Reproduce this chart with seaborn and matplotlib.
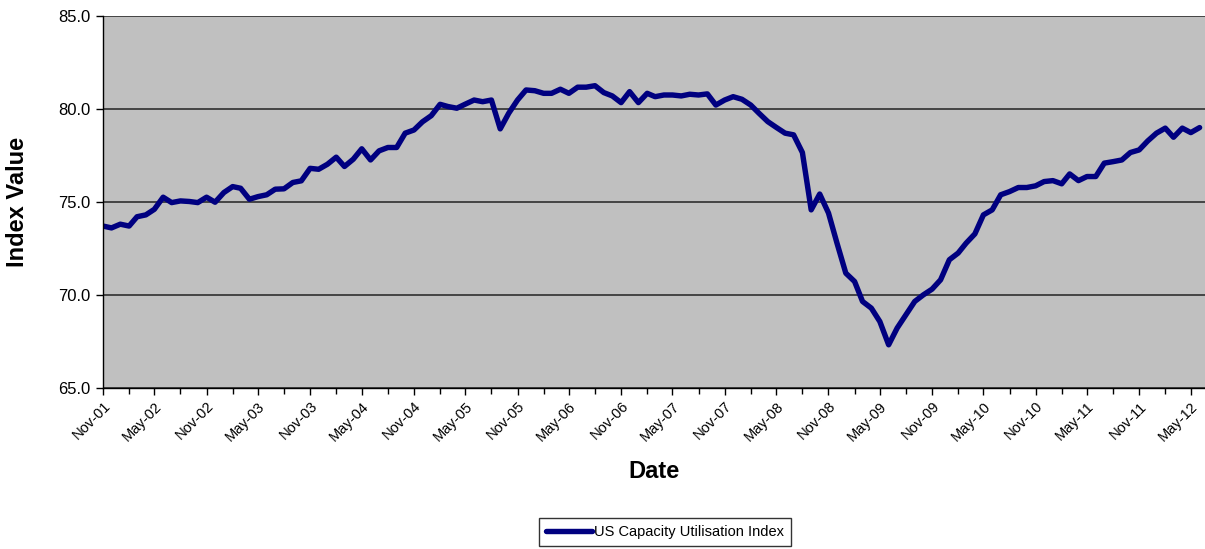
import numpy as np
import pandas as pd
import matplotlib
matplotlib.use("Agg")
import matplotlib.pyplot as plt
import matplotlib.dates as mdates
from matplotlib.ticker import FormatStrFormatter
import seaborn as sns

# Monthly US capacity utilisation, Nov-2001 .. Jun-2012
start_month = "2001-11-01"
index_values = [
    73.7, 73.6, 73.8, 73.7, 74.2, 74.3, 74.6, 75.25, 74.96, 75.05,
    75.02, 74.96, 75.25, 74.98, 75.5, 75.82, 75.73, 75.14, 75.28, 75.38,
    75.68, 75.7, 76.04, 76.13, 76.8, 76.75, 77.02, 77.4, 76.9, 77.29,
    77.85, 77.25, 77.74, 77.92, 77.92, 78.69, 78.86, 79.3, 79.63, 80.24,
    80.12, 80.03, 80.25, 80.47, 80.38, 80.47, 78.92, 79.76, 80.47, 81.01,
    80.97, 80.83, 80.83, 81.05, 80.83, 81.16, 81.16, 81.24, 80.87, 80.69,
    80.33, 80.92, 80.33, 80.83, 80.65, 80.74, 80.74, 80.69, 80.78, 80.74,
    80.8, 80.2, 80.47, 80.65, 80.51, 80.2, 79.76, 79.31, 79.0, 78.69,
    78.6, 77.65, 74.57, 75.42, 74.4, 72.78, 71.17, 70.72, 69.65, 69.29,
    68.57, 67.32, 68.22, 68.93, 69.65, 70.0, 70.31, 70.81, 71.89, 72.25,
    72.78, 73.28, 74.3, 74.57, 75.38, 75.55, 75.77, 75.77, 75.86, 76.09,
    76.14, 75.97, 76.5, 76.14, 76.36, 76.36, 77.08, 77.16, 77.25, 77.65,
    77.79, 78.27, 78.69, 78.96, 78.47, 78.96, 78.72, 78.99,
]
series_name = "US Capacity Utilisation Index"
y_ticks = [65.0, 70.0, 75.0, 80.0, 85.0]

dates = pd.date_range(start_month, periods=len(index_values), freq="MS")
df = pd.DataFrame({"Date": dates, "Index Value": index_values})

sns.set_theme(style="white")
plt.rcParams["font.family"] = ["Liberation Sans", "DejaVu Sans"]
plt.rcParams["text.color"] = "black"
plt.rcParams["axes.labelcolor"] = "black"

fig = plt.figure(figsize=(12.05, 5.49), dpi=100)
W, H = 1205, 549
ax = fig.add_axes([103 / W, 1 - 388 / H, (1205 - 103) / W, (388 - 15.7) / H])
ax.set_facecolor("#C0C0C0")

sns.lineplot(data=df, x="Date", y="Index Value", ax=ax, color="#000080",
             linewidth=3.9, label=series_name, legend=False)

ax.set_ylim(65, 85)
ax.set_yticks(y_ticks)
ax.yaxis.set_major_formatter(FormatStrFormatter("%.1f"))
ax.grid(axis="y", color="#3a3a3a", linewidth=1.3)
ax.grid(axis="x", visible=False)
ax.set_axisbelow(True)

ax.set_xlim(pd.Timestamp("2001-11-01"), pd.Timestamp("2012-06-20"))
ax.xaxis.set_major_locator(mdates.MonthLocator(bymonth=[5, 11]))
ax.xaxis.set_minor_locator(mdates.MonthLocator(bymonth=[2, 8]))
ax.xaxis.set_major_formatter(mdates.DateFormatter("%b-%y"))

for s in ("top", "right"):
    ax.spines[s].set_visible(False)
for s in ("left", "bottom"):
    ax.spines[s].set_color("black")
    ax.spines[s].set_linewidth(1.0)

ax.tick_params(axis="both", which="major", direction="out", length=5,
               width=1, color="black", bottom=True, left=True)
ax.tick_params(axis="x", which="minor", direction="out", length=4,
               width=1, color="black", bottom=True)
ax.tick_params(axis="y", labelsize=12, pad=4, labelcolor="black")
ax.tick_params(axis="x", labelsize=10.5, pad=3, labelcolor="black")
for lab in ax.get_xticklabels():
    lab.set_rotation(45)
    lab.set_ha("right")
    lab.set_rotation_mode("anchor")

ax.set_xlabel("Date", fontsize=17, fontweight="bold", labelpad=12)
ax.set_ylabel("Index Value", fontsize=17, fontweight="bold", labelpad=21)

handles, labels = ax.get_legend_handles_labels()
leg = fig.legend(handles, labels, loc="center", bbox_to_anchor=(665 / W, 1 - 532 / H),
                 frameon=True, fancybox=False, fontsize=10.5, handlelength=3.2,
                 borderpad=0.45, handletextpad=0.15)
leg.get_frame().set_edgecolor("black")
leg.get_frame().set_linewidth(1.0)

fig.savefig("out.png", dpi=100, facecolor="white")
